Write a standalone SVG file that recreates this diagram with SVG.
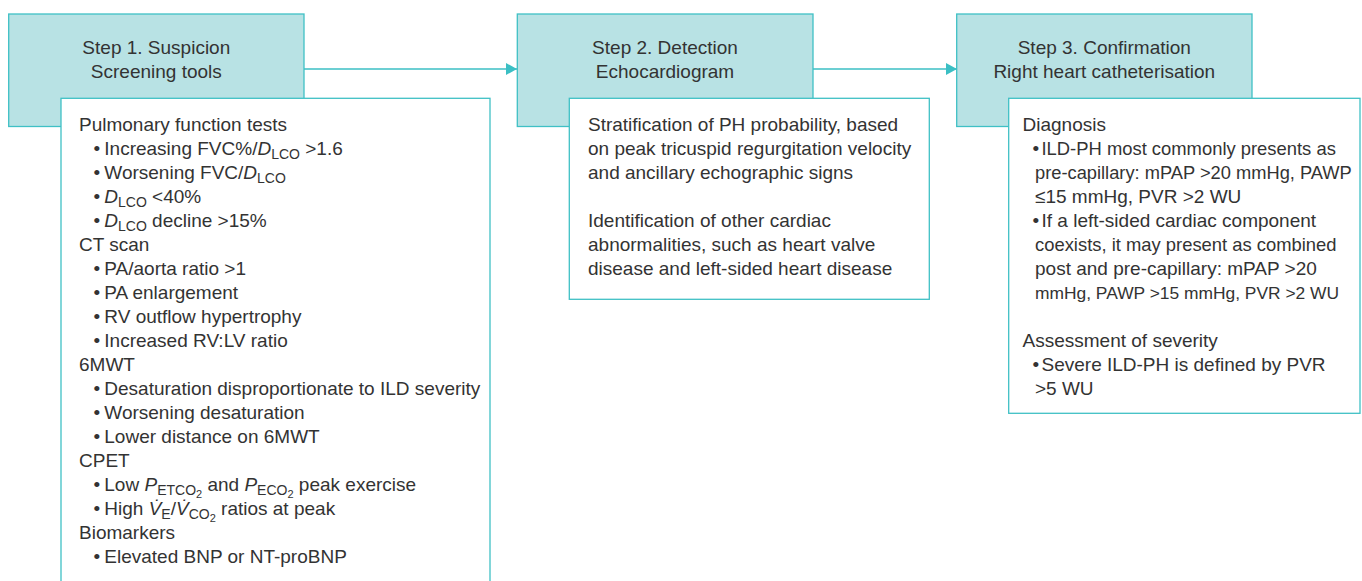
<svg xmlns="http://www.w3.org/2000/svg" width="1362" height="581" viewBox="0 0 1362 581">
<style>
.hdr{fill:#b8e2e4;stroke:#3fc0c5;stroke-width:1.3}
.box{fill:#ffffff;stroke:#3fc0c5;stroke-width:1.3}
text{font-family:"Liberation Sans",Arial,sans-serif;font-size:19px;fill:#333333}
.c{text-anchor:middle}
.conn{stroke:#3bbfc4;stroke-width:1.6;fill:none}
.i{font-style:italic}
.s{font-size:14px}
.ss{font-size:11px}
</style>
<defs>
<marker id="ah" viewBox="0 0 11 12" refX="11" refY="6" markerWidth="11" markerHeight="12" markerUnits="userSpaceOnUse" orient="auto">
<path d="M0,0 L11,6 L0,12 Z" fill="#3bbfc4"/>
</marker>
</defs>
<g id="connectors">
<line class="conn" x1="304" y1="69" x2="517" y2="69" marker-end="url(#ah)"/>
<line class="conn" x1="813" y1="69" x2="957" y2="69" marker-end="url(#ah)"/>
</g>
<g id="step1">
<rect class="hdr" x="8.7" y="14" width="295.3" height="112.5"/>
<text class="c" x="156.3" y="54">Step 1. Suspicion</text>
<text class="c" x="156.3" y="78">Screening tools</text>
</g>
<g id="step1-content">
<rect class="box" x="61" y="98.3" width="429" height="500"/>
<text x="79" y="131">Pulmonary function tests</text>
<text x="93.5" y="155">•<tspan x="104.3">Increasing FVC%/</tspan><tspan class="i">D</tspan><tspan class="s" dy="4">LCO</tspan><tspan dy="-4"> &gt;1.6</tspan></text>
<text x="93.5" y="179">•<tspan x="104.3">Worsening FVC/</tspan><tspan class="i">D</tspan><tspan class="s" dy="4">LCO</tspan></text>
<text x="93.5" y="203">•<tspan x="104.3" class="i">D</tspan><tspan class="s" dy="4">LCO</tspan><tspan dy="-4"> &lt;40%</tspan></text>
<text x="93.5" y="227">•<tspan x="104.3" class="i">D</tspan><tspan class="s" dy="4">LCO</tspan><tspan dy="-4"> decline &gt;15%</tspan></text>
<text x="79" y="251">CT scan</text>
<text x="93.5" y="275">•<tspan x="104.3">PA/aorta ratio &gt;1</tspan></text>
<text x="93.5" y="299">•<tspan x="104.3">PA enlargement</tspan></text>
<text x="93.5" y="323">•<tspan x="104.3">RV outflow hypertrophy</tspan></text>
<text x="93.5" y="347">•<tspan x="104.3">Increased RV:LV ratio</tspan></text>
<text x="79" y="371">6MWT</text>
<text x="93.5" y="395">•<tspan x="104.3">Desaturation disproportionate to ILD severity</tspan></text>
<text x="93.5" y="419">•<tspan x="104.3">Worsening desaturation</tspan></text>
<text x="93.5" y="443">•<tspan x="104.3">Lower distance on 6MWT</tspan></text>
<text x="79" y="467">CPET</text>
<text x="93.5" y="491">•<tspan x="104.3">Low </tspan><tspan class="i">P</tspan><tspan class="s" dy="4">ETCO</tspan><tspan class="ss" dy="3">2</tspan><tspan dy="-7"> and </tspan><tspan class="i">P</tspan><tspan class="s" dy="4">ECO</tspan><tspan class="ss" dy="3">2</tspan><tspan dy="-7"> peak exercise</tspan></text>
<text x="93.5" y="515">•<tspan x="104.3">High </tspan><tspan class="i">V̇</tspan><tspan class="s" dy="4">E</tspan><tspan dy="-4">/</tspan><tspan class="i">V̇</tspan><tspan class="s" dy="4">CO</tspan><tspan class="ss" dy="3">2</tspan><tspan dy="-7"> ratios at peak</tspan></text>
<text x="79" y="539">Biomarkers</text>
<text x="93.5" y="563">•<tspan x="104.3">Elevated BNP or NT-proBNP</tspan></text>
</g>
<g id="step2">
<rect class="hdr" x="517.3" y="14" width="295.7" height="112.5"/>
<text class="c" x="665" y="54">Step 2. Detection</text>
<text class="c" x="665" y="78">Echocardiogram</text>
</g>
<g id="step2-content">
<rect class="box" x="569.3" y="98.3" width="360" height="201"/>
<text x="588" y="131">Stratification of PH probability, based</text>
<text x="588" y="155">on peak tricuspid regurgitation velocity</text>
<text x="588" y="179">and ancillary echographic signs</text>
<text x="588" y="227">Identification of other cardiac</text>
<text x="588" y="251">abnormalities, such as heart valve</text>
<text x="588" y="275">disease and left-sided heart disease</text>
</g>
<g id="step3">
<rect class="hdr" x="956.7" y="14" width="295.3" height="112.5"/>
<text class="c" x="1104.3" y="54">Step 3. Confirmation</text>
<text class="c" x="1104.3" y="78">Right heart catheterisation</text>
</g>
<g id="step3-content">
<rect class="box" x="1008.7" y="98.3" width="351.3" height="315"/>
<text x="1022.5" y="131">Diagnosis</text>
<text x="1032.5" y="155">•<tspan x="1041.5" style="font-size:18.4px">ILD-PH most commonly presents as</tspan></text>
<text x="1035" y="179" style="font-size:18.3px">pre-capillary: mPAP &gt;20 mmHg, PAWP</text>
<text x="1035" y="203">≤15 mmHg, PVR &gt;2 WU</text>
<text x="1032.5" y="227">•<tspan x="1041.5">If a left-sided cardiac component</tspan></text>
<text x="1035" y="251" style="font-size:18.4px">coexists, it may present as combined</text>
<text x="1035" y="275">post and pre-capillary: mPAP &gt;20</text>
<text x="1035" y="299" style="font-size:17.4px">mmHg, PAWP &gt;15 mmHg, PVR &gt;2 WU</text>
<text x="1022.5" y="347">Assessment of severity</text>
<text x="1032.5" y="371">•<tspan x="1041.5">Severe ILD-PH is defined by PVR</tspan></text>
<text x="1035" y="395">&gt;5 WU</text>
</g>
</svg>
